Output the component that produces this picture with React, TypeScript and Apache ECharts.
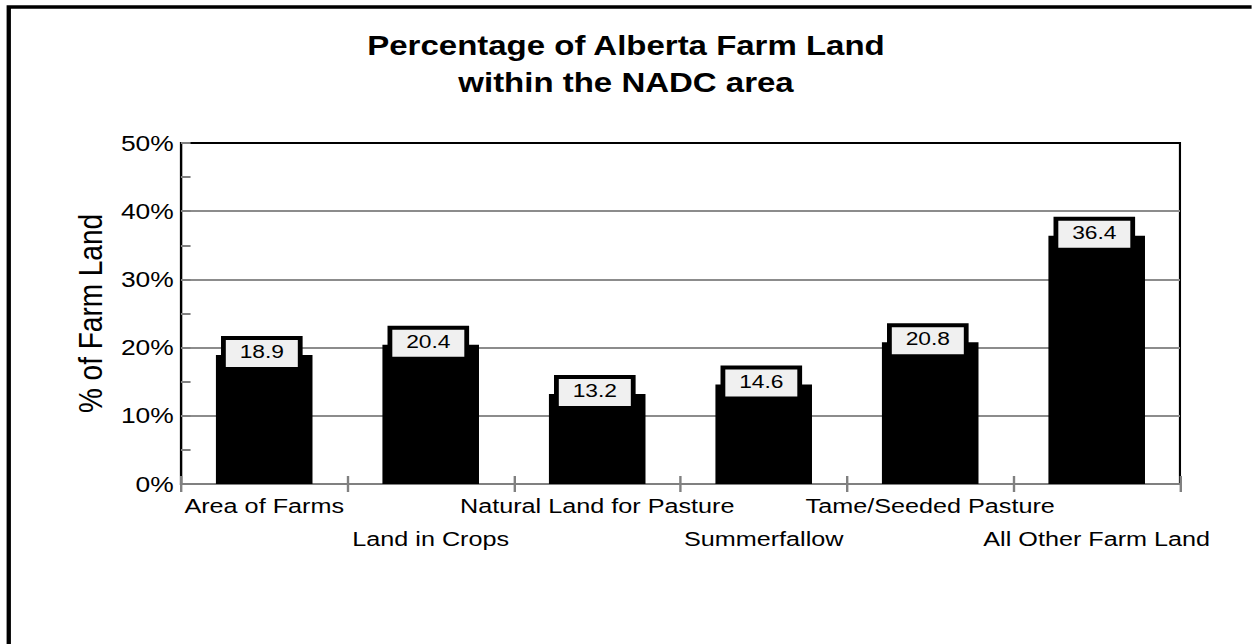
import React, { useEffect, useRef } from 'react';
import * as echarts from 'echarts';

const categories = [
  'Area of Farms',
  'Land in Crops',
  'Natural Land for Pasture',
  'Summerfallow',
  'Tame/Seeded Pasture',
  'All Other Farm Land',
];
const values = [18.9, 20.4, 13.2, 14.6, 20.8, 36.4];
const titleLines = ['Percentage of Alberta Farm Land', 'within the NADC area'];
const yAxisName = '% of Farm Land';

const STRETCH = 1.2;
const W = 1252 / STRETCH;
const H = 644;
const FONT = '"Liberation Sans", Arial, Helvetica, sans-serif';

export default function App() {
  const ref = useRef<HTMLDivElement>(null);
  useEffect(() => {
    if (!ref.current) return;
    const chart = echarts.init(ref.current, null, { renderer: 'svg', width: W, height: H });
    chart.setOption({
      animation: false,
      backgroundColor: '#fff',
      title: {
        text: titleLines.join('\n'),
        left: 'center',
        top: 27,
        padding: 0,
        textStyle: { fontFamily: FONT, fontSize: 27.5, fontWeight: 'bold', color: '#000', lineHeight: 37 },
      },
      graphic: [
        {
          type: 'polyline',
          shape: { points: [[7.3, 2000], [7.3, 7], [3000, 7]] },
          style: { fill: 'none', stroke: '#000', lineWidth: 3.6 },
          silent: true,
          z: 100,
        },
      ],
      grid: {
        left: 150.8,
        right: W - 983.3,
        top: 143,
        bottom: H - 484,
        show: true,
        borderColor: '#000',
        borderWidth: 1.8,
        backgroundColor: 'transparent',
      },
      xAxis: [
        {
          type: 'category',
          data: categories,
          axisLine: { show: true, lineStyle: { color: '#808080', width: 2 } },
          axisTick: { show: true, interval: 0, length: 8, lineStyle: { color: '#808080', width: 2 } },
          axisLabel: {
            interval: 0,
            margin: 5.5,
            fontFamily: FONT,
            fontSize: 21,
            lineHeight: 33,
            color: '#000',
            verticalAlign: 'top',
            formatter: (v: string, i: number) => (i % 2 ? '\n' + v : v),
          },
          splitLine: { show: false },
        },
        {
          type: 'category',
          data: categories,
          position: 'bottom',
          axisLine: { show: false },
          axisTick: { show: true, interval: 0, inside: true, length: 8, lineStyle: { color: '#808080', width: 2 } },
          axisLabel: { show: false },
          splitLine: { show: false },
        },
      ],
      yAxis: {
        type: 'value',
        min: 0,
        max: 50,
        interval: 10,
        name: yAxisName,
        nameLocation: 'middle',
        nameGap: 54,
        nameRotate: 90,
        nameTextStyle: { fontFamily: FONT, fontSize: 28, color: '#000' },
        axisLabel: { formatter: '{value}%', fontFamily: FONT, fontSize: 22, color: '#000', margin: 6 },
        axisLine: { show: true, lineStyle: { color: '#000', width: 1.8 } },
        axisTick: { show: true, inside: true, length: 8, lineStyle: { color: '#808080', width: 2 } },
        minorTick: { show: true, splitNumber: 2, length: 8, lineStyle: { color: '#808080', width: 2 } },
        splitLine: { show: true, showMinLine: false, showMaxLine: false, lineStyle: { color: '#8c8c8c', width: 2 } },
      },
      series: [
        {
          type: 'bar',
          data: values,
          xAxisIndex: 0,
          barWidth: '58%',
          itemStyle: { color: '#000' },
          label: {
            show: true,
            position: 'top',
            distance: -12,
            offset: [-2, 0],
            formatter: (p: any) => Number(p.value).toFixed(1),
            fontFamily: FONT,
            fontSize: 19,
            color: '#000',
            backgroundColor: '#f0f0f0',
            borderColor: '#000',
            borderWidth: 4,
            width: 60,
            height: 23,
            lineHeight: 23,
            align: 'center',
            padding: [0, 0, 4, 0],
          },
        },
      ],
    });
    return () => chart.dispose();
  }, []);
  return (
    <div
      ref={ref}
      style={{
        position: 'fixed',
        left: 0,
        top: 0,
        width: W,
        height: H,
        transform: `scaleX(${STRETCH})`,
        transformOrigin: '0 0',
        background: '#fff',
      }}
    />
  );
}
